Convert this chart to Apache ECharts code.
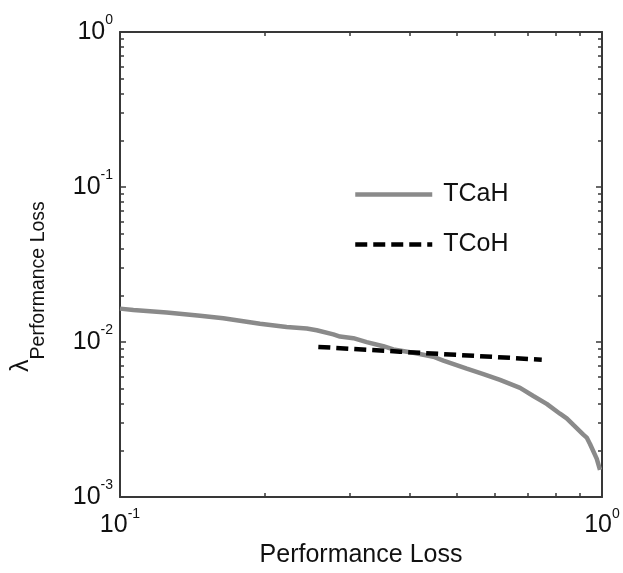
<!DOCTYPE html>
<html>
<head>
<meta charset="utf-8">
<script src="https://cdn.jsdelivr.net/npm/echarts@6/dist/echarts.min.js"></script>
<style>
  html, body { margin: 0; padding: 0; background: #fff; }
  #chart { width: 623px; height: 573px; }
</style>
</head>
<body>
<div id="chart"></div>
<script>
// TCaH curve: performance loss vs. lambda
const tcahLoss = [0.1000, 0.1066, 0.1250, 0.1466, 0.1638, 0.1952, 0.2217, 0.2440, 0.2559, 0.2771,
  0.2860, 0.3049, 0.3250, 0.3518, 0.3690, 0.4061, 0.4467, 0.4687, 0.5241, 0.5674,
  0.6143, 0.6761, 0.7203, 0.7678, 0.8182, 0.8449, 0.8722, 0.9147, 0.9296, 0.9443,
  0.9750, 0.9905];
const tcahLambda = [0.01643, 0.01611, 0.01551, 0.01478, 0.01424, 0.01312, 0.01252, 0.01222, 0.01192, 0.01121,
  0.01085, 0.01059, 0.01000, 0.00940, 0.00896, 0.00854, 0.00804, 0.00759, 0.00673, 0.00621,
  0.00570, 0.00506, 0.00449, 0.00399, 0.00345, 0.00322, 0.00292, 0.00253, 0.00242, 0.00220,
  0.00177, 0.00150];

// TCoH curve
const tcohLoss = [0.2579, 0.3810, 0.5000, 0.7499];
const tcohLambda = [0.00931, 0.00867, 0.00827, 0.00770];

// Tick positions
const xMajorTicks = [0.1, 1];
const xMinorTicks = [0.2, 0.3, 0.4, 0.5, 0.6, 0.7, 0.8, 0.9];
const yMajorTicks = [0.001, 0.01, 0.1, 1];
const yMinorTicks = [];
[0.001, 0.01, 0.1].forEach(function (d) {
  for (let k = 2; k <= 9; k++) yMinorTicks.push(+(d * k).toPrecision(3));
});

const FONT = "'Liberation Sans', Arial, sans-serif";
const AXIS_COLOR = '#383838';
const TEXT_COLOR = '#111';
const TCAH_COLOR = '#8a8a8a';
const TCOH_DASH = [12, 6];

const zip = (a, b) => a.map((v, i) => [v, b[i]]);

const powerLabel = function (v) {
  const e = Math.round(Math.log10(v));
  return '{b|10}{s|' + e + '}';
};
const powerRich = {
  b: { fontSize: 25, lineHeight: 37, verticalAlign: 'middle', fontFamily: FONT, color: TEXT_COLOR },
  s: { fontSize: 14, lineHeight: 14, verticalAlign: 'top', fontFamily: FONT, color: TEXT_COLOR }
};

function logAxis(dim, position, min, max, opts) {
  const major = opts.major;
  return Object.assign({
    type: 'log',
    logBase: 10,
    position: position,
    min: min,
    max: max,
    gridIndex: 0,
    splitLine: { show: false },
    axisLine: { show: opts.line, lineStyle: { color: AXIS_COLOR, width: 2 } },
    axisTick: {
      show: true,
      inside: true,
      length: major ? 6 : 4,
      customValues: opts.ticks,
      lineStyle: { color: AXIS_COLOR, width: 1.5 }
    },
    axisLabel: opts.labels ? {
      show: true,
      customValues: opts.ticks,
      formatter: powerLabel,
      rich: powerRich,
      margin: dim === 'x' ? 10 : 7
    } : { show: false }
  }, opts.extra || {});
}

const chart = echarts.init(document.getElementById('chart'), null, { renderer: 'canvas' });

chart.setOption({
  animation: false,
  backgroundColor: '#ffffff',
  grid: { left: 120, right: 21, top: 32, bottom: 58, containLabel: false },
  xAxis: [
    logAxis('x', 'bottom', 0.1, 1, {
      major: true, line: true, labels: true, ticks: xMajorTicks,
      extra: {
        name: 'Performance Loss',
        nameLocation: 'middle',
        nameGap: 28,
        nameTextStyle: { fontSize: 25, fontFamily: FONT, color: TEXT_COLOR }
      }
    }),
    logAxis('x', 'bottom', 0.1, 1, { major: false, line: false, labels: false, ticks: xMinorTicks }),
    logAxis('x', 'top', 0.1, 1, { major: true, line: true, labels: false, ticks: xMajorTicks }),
    logAxis('x', 'top', 0.1, 1, { major: false, line: false, labels: false, ticks: xMinorTicks })
  ],
  yAxis: [
    logAxis('y', 'left', 0.001, 1, {
      major: true, line: true, labels: true, ticks: yMajorTicks,
      extra: {
        name: '{l|λ}{s|Performance Loss}',
        nameLocation: 'middle',
        nameRotate: 90,
        nameGap: 52,
        nameTextStyle: {
          color: TEXT_COLOR,
          padding: [0, 44, 0, 0],
          rich: {
            l: { fontSize: 25, lineHeight: 25, verticalAlign: 'top', fontFamily: FONT, color: TEXT_COLOR },
            s: { fontSize: 19.5, lineHeight: 59, verticalAlign: 'middle', fontFamily: FONT, color: TEXT_COLOR }
          }
        }
      }
    }),
    logAxis('y', 'left', 0.001, 1, { major: false, line: false, labels: false, ticks: yMinorTicks }),
    logAxis('y', 'right', 0.001, 1, { major: true, line: true, labels: false, ticks: yMajorTicks }),
    logAxis('y', 'right', 0.001, 1, { major: false, line: false, labels: false, ticks: yMinorTicks })
  ],
  legend: {
    orient: 'vertical',
    left: 348,
    top: 177,
    itemWidth: 77,
    itemHeight: 14,
    itemGap: 25,
    itemStyle: { opacity: 0 },
    textStyle: { fontSize: 25, fontFamily: FONT, color: TEXT_COLOR, padding: [0, 0, 0, 6] },
    data: [
      { name: 'TCaH', lineStyle: { color: TCAH_COLOR, width: 4.5 } },
      { name: 'TCoH', lineStyle: { color: '#000000', width: 4.5, type: TCOH_DASH } }
    ]
  },
  series: [
    {
      name: 'TCaH',
      type: 'line',
      xAxisIndex: 0,
      yAxisIndex: 0,
      data: zip(tcahLoss, tcahLambda),
      showSymbol: false,
      symbol: 'none',
      color: TCAH_COLOR,
      lineStyle: { color: TCAH_COLOR, width: 4.5 }
    },
    {
      name: 'TCoH',
      type: 'line',
      xAxisIndex: 0,
      yAxisIndex: 0,
      data: zip(tcohLoss, tcohLambda),
      showSymbol: false,
      symbol: 'none',
      color: '#000000',
      lineStyle: { color: '#000000', width: 4.5, type: TCOH_DASH }
    }
  ]
});
</script>
</body>
</html>
